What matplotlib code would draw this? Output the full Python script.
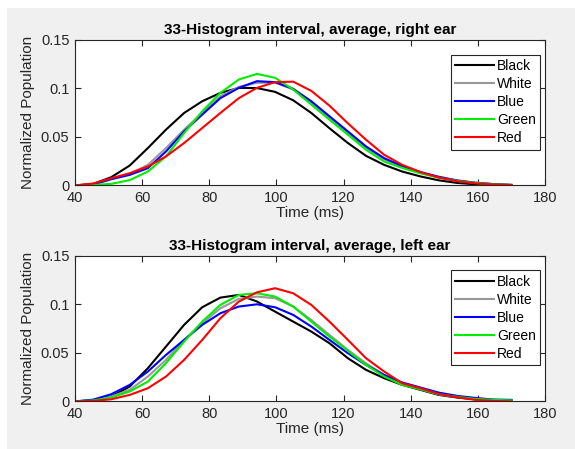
import matplotlib
matplotlib.use('Agg')
import matplotlib.pyplot as plt
from matplotlib.patches import Rectangle

plt.rcParams['font.family'] = ['Liberation Sans', 'DejaVu Sans']

# sample times (ms)
time = [40, 45.4, 50.8, 56.3, 61.7, 67.1, 72.5, 77.9, 83.3, 88.8, 94.2, 99.6,
        105, 110.4, 115.8, 121.3, 126.7, 132.1, 137.5, 142.9, 148.3, 153.8,
        159.2, 164.6, 170]

labels = ['Black', 'White', 'Blue', 'Green', 'Red']
colors = ['k', '#999999', '#0000ff', '#00ee00', '#ff0000']

# right ear
black_r = [0, 0.0015, 0.0085, 0.0205, 0.0385, 0.0575, 0.0747, 0.0868, 0.0954,
           0.1006, 0.1004, 0.0965, 0.0878, 0.0747, 0.059, 0.0437, 0.0305,
           0.0212, 0.0143, 0.0093, 0.0053, 0.0026, 0.0012, 0.0005, 0.0002]
white_r = [0, 0.001, 0.0068, 0.012, 0.0212, 0.0385, 0.0575, 0.0747, 0.092,
           0.1016, 0.1058, 0.106, 0.099, 0.085, 0.069, 0.054, 0.039, 0.027,
           0.019, 0.013, 0.0085, 0.005, 0.0028, 0.0014, 0.0006]
blue_r = [0, 0.001, 0.0064, 0.0109, 0.0178, 0.035, 0.0557, 0.073, 0.09,
          0.1006, 0.1075, 0.1065, 0.0996, 0.0868, 0.0713, 0.0557, 0.0402,
          0.0281, 0.02, 0.0138, 0.009, 0.0052, 0.0028, 0.0014, 0.0006]
green_r = [0, 0.0005, 0.0016, 0.0055, 0.0143, 0.0299, 0.054, 0.0764, 0.0954,
           0.1092, 0.115, 0.111, 0.0989, 0.0834, 0.0678, 0.0523, 0.0368,
           0.0247, 0.018, 0.0125, 0.008, 0.0047, 0.0026, 0.0012, 0.0005]
red_r = [0, 0.002, 0.0074, 0.0126, 0.0195, 0.0299, 0.0437, 0.0592, 0.0747,
         0.09, 0.1006, 0.1065, 0.107, 0.0975, 0.0823, 0.064, 0.0471, 0.0316,
         0.0212, 0.0138, 0.0082, 0.0043, 0.0022, 0.001, 0.0004]

# left ear
black_l = [0, 0.001, 0.005, 0.0153, 0.0342, 0.0565, 0.0789, 0.0971, 0.107,
           0.1098, 0.103, 0.0926, 0.0823, 0.072, 0.06, 0.0445, 0.0325,
           0.0239, 0.017, 0.0119, 0.0067, 0.004, 0.0022, 0.0012, 0.001]
white_l = [0, 0.001, 0.005, 0.0119, 0.0256, 0.0428, 0.0634, 0.0806, 0.096,
           0.1057, 0.1081, 0.1064, 0.0978, 0.084, 0.0686, 0.0531, 0.0393,
           0.0273, 0.0177, 0.0126, 0.0074, 0.0047, 0.0026, 0.0016, 0.001]
blue_l = [0, 0.0018, 0.0074, 0.017, 0.0308, 0.0479, 0.0634, 0.0789, 0.0909,
          0.0978, 0.1001, 0.0971, 0.0892, 0.0772, 0.0634, 0.0497, 0.0376,
          0.0273, 0.0195, 0.0143, 0.0091, 0.0057, 0.0036, 0.0019, 0.0016]
green_l = [0, 0.001, 0.004, 0.0102, 0.0204, 0.0394, 0.0617, 0.0823, 0.0995,
           0.1098, 0.1115, 0.1081, 0.0978, 0.0823, 0.0668, 0.0521, 0.0376,
           0.0256, 0.017, 0.0126, 0.0074, 0.0047, 0.0026, 0.0016, 0.001]
red_l = [0, 0.0005, 0.0022, 0.0067, 0.0136, 0.0256, 0.0428, 0.0634, 0.0857,
         0.1029, 0.1125, 0.1167, 0.1115, 0.0995, 0.0823, 0.0634, 0.0445,
         0.0308, 0.0187, 0.0136, 0.0077, 0.0043, 0.0016, 0.0005, 0.0]

panels = [
    ('33-Histogram interval, average, right ear',
     [black_r, white_r, blue_r, green_r, red_r]),
    ('33-Histogram interval, average, left ear',
     [black_l, white_l, blue_l, green_l, red_l]),
]

xticks = [40, 60, 80, 100, 120, 140, 160, 180]
yticks = [0, 0.05, 0.1, 0.15]
yticklabels = ['0', '0.05', '0.1', '0.15']

fig = plt.figure(figsize=(5.75, 4.49), dpi=100, facecolor='white')
# grey figure area, white strip on top and left
fig.patches.append(Rectangle((7 / 575, 0), 1, 1 - 8 / 449, transform=fig.transFigure,
                             facecolor='#f0f0f0', edgecolor='none', zorder=-10))

axcol = '#262626'
bottoms = [0.587, 0.106]
for (title, series), b in zip(panels, bottoms):
    ax = fig.add_axes([0.1304, b, 0.8174, 0.324])
    for y, c, lab in zip(series, colors, labels):
        ax.plot(time, y, color=c, lw=1.5, label=lab)
    ax.set_xlim(40, 180)
    ax.set_ylim(0, 0.15)
    ax.set_xticks(xticks)
    ax.set_yticks(yticks)
    ax.set_yticklabels(yticklabels)
    ax.tick_params(direction='in', top=True, right=True, length=4,
                   width=0.8, color=axcol, labelcolor=axcol, labelsize=10.5, pad=4)
    for s in ax.spines.values():
        s.set_color(axcol)
        s.set_linewidth(0.8)
    ax.set_title(title, fontsize=11, fontweight='bold', pad=4)
    ax.set_xlabel('Time (ms)', fontsize=11, color=axcol, labelpad=1)
    ax.set_ylabel('Normalized Population', fontsize=11, color=axcol, labelpad=4)
    leg = ax.legend(loc='upper right', bbox_to_anchor=(0.989, 0.9),
                    borderaxespad=0, fontsize=10, frameon=True, fancybox=False,
                    edgecolor=axcol, framealpha=1, handlelength=2.8,
                    handletextpad=0.2, labelspacing=0.3, borderpad=0.3)
    leg.get_frame().set_linewidth(0.8)

fig.savefig('out.png', dpi=100, facecolor=fig.get_facecolor())
